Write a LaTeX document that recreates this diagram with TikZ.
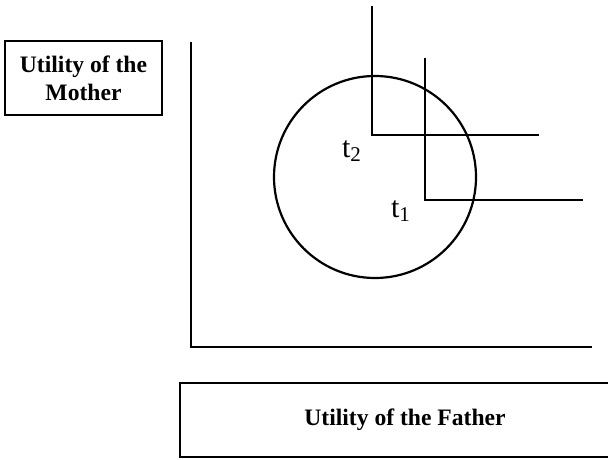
\documentclass[tikz,border=0pt]{standalone}
\usepackage{fontspec}
\setmainfont{Liberation Serif}
\usepackage{amsmath}

\tikzset{
  axisbox/.style={draw, line width=1pt, font=\bfseries\fontsize{11.8}{14}\selectfont, align=center, inner sep=0pt},
  curve/.style={line width=1.1pt}
}

\begin{document}
\begin{tikzpicture}[x=0.5pt, y=-0.5pt]
        \useasboundingbox (0,0) rectangle (608,459);
        % axes
        \coordinate (O) at (191,347);
        \coordinate (ytop) at (191,42);
        \coordinate (xend) at (592,347);
        \draw[curve] (ytop) -- (O) -- (xend);
        % labels of the axes
        \node[axisbox, minimum width=78.5pt, minimum height=37pt] (mother) at (83.5,78) {Utility of the\\Mother};
        \node[axisbox, minimum width=225pt, minimum height=37pt] (father) at (405,420) {Utility of the Father};
        % the circle
        \draw[curve] (375,177) circle [radius=50.5pt];
        % the two corners
        \coordinate (c2) at (372,135); \coordinate (c1) at (425,200);
        \draw[curve] (372,6) -- (c2) -- (539,135);
        \draw[curve] (425,58) -- (c1) -- (583,200);
        \node[font=\fontsize{15}{17}\selectfont] (t2) at (352,151) {t\textsubscript{2}};
        \node[font=\fontsize{15}{17}\selectfont] (t1) at (401,211) {t\textsubscript{1}};
    \end{tikzpicture}
\end{document}
